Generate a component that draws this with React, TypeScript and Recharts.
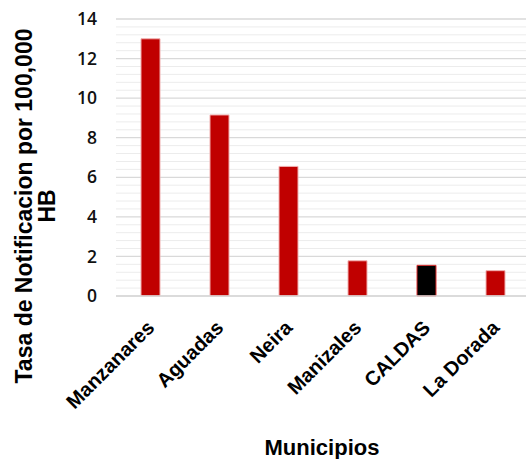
import { BarChart, Bar, XAxis, YAxis, CartesianGrid, Cell, Label } from "recharts";

const municipios = ["Manzanares", "Aguadas", "Neira", "Manizales", "CALDAS", "La Dorada"];
const tasas = [13.0, 9.15, 6.55, 1.78, 1.55, 1.28];
const yTicks = [0, 2, 4, 6, 8, 10, 12, 14];
const minorTicks = [
  0.4, 0.8, 1.2, 1.6, 2.4, 2.8, 3.2, 3.6, 4.4, 4.8, 5.2, 5.6, 6.4, 6.8, 7.2, 7.6,
  8.4, 8.8, 9.2, 9.6, 10.4, 10.8, 11.2, 11.6, 12.4, 12.8, 13.2, 13.6,
];

const data = municipios.map((m, i) => ({ municipio: m, tasa: tasas[i] }));

const RED = "#C00000";

function CategoryTick({ x, y, payload }: { x?: number; y?: number; payload?: { value: string } }) {
  const tx = (x ?? 0) + 5;
  const ty = (y ?? 0) + 25;
  return (
    <text
      x={tx}
      y={ty}
      transform={`rotate(-45 ${tx} ${ty})`}
      textAnchor="end"
      fontFamily="'Liberation Sans', Arial, sans-serif"
      fontWeight="bold"
      fontSize={20}
      fill="#000"
    >
      {payload?.value}
    </text>
  );
}

function YTitle() {
  return (
    <text
      transform="translate(32 206) rotate(-90)"
      textAnchor="middle"
      fontFamily="'Liberation Sans', Arial, sans-serif"
      fontWeight="bold"
      fontSize={23}
      fill="#000"
    >
      <tspan x={0} y={0}>Tasa de Notificacion por 100,000</tspan>
      <tspan x={0} y={23}>HB</tspan>
    </text>
  );
}

function XTitle() {
  return (
    <text
      x={322}
      y={455}
      textAnchor="middle"
      fontFamily="'Liberation Sans', Arial, sans-serif"
      fontWeight="bold"
      fontSize={22}
      fill="#000"
    >
      Municipios
    </text>
  );
}

export default function App() {
  return (
    <div style={{ position: "absolute", left: 0, top: 0, width: 526, height: 459, overflow: "hidden", background: "#fff" }}>
      <BarChart
        width={526}
        height={459}
        data={data}
        margin={{ top: 19, right: -4, left: 1, bottom: 0 }}
        barSize={19}
      >
        <CartesianGrid horizontal vertical={false} horizontalValues={minorTicks} stroke="#ececec" strokeWidth={1} />
        <CartesianGrid horizontal vertical={false} stroke="#d9d9d9" strokeWidth={1.3} />
        <XAxis
          dataKey="municipio"
          height={163}
          interval={0}
          axisLine={{ stroke: "#d9d9d9", strokeWidth: 1.3 }}
          tickLine={false}
          tick={<CategoryTick />}
        >
          <Label content={<XTitle />} />
        </XAxis>
        <YAxis
          width={115}
          domain={[0, 14]}
          ticks={yTicks}
          interval={0}
          axisLine={false}
          tickLine={false}
          tickSize={0}
          tickMargin={19}
          tick={{ fill: "#111", fontSize: 17.5, fontFamily: "'Open Sans', sans-serif", fontWeight: 600 }}
        >
          <Label content={<YTitle />} />
        </YAxis>
        <Bar dataKey="tasa" fill={RED} stroke="#f0b0b0" strokeWidth={1} isAnimationActive={false}>
          {data.map((d) => (
            <Cell
              key={d.municipio}
              fill={d.municipio === "CALDAS" ? "#000" : RED}
              stroke={d.municipio === "CALDAS" ? "#e03030" : "#f0b0b0"}
            />
          ))}
        </Bar>
      </BarChart>
    </div>
  );
}
